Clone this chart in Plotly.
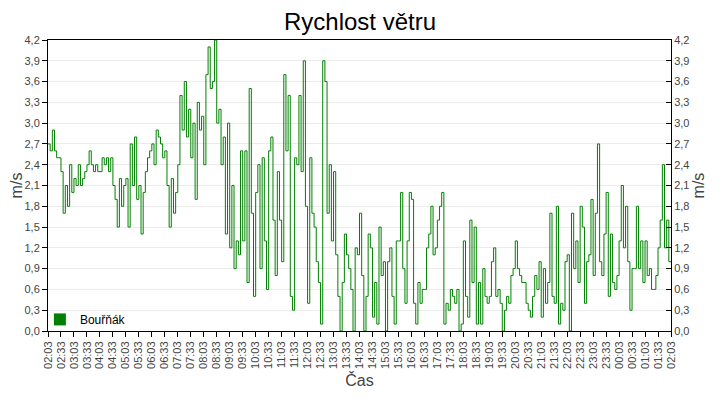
import pandas as pd
import plotly.graph_objects as go

# ================== DATA ==================
# wind speed [m/s], one reading every 5 minutes, 02:03 -> 02:03 next day
speed_0203_0558 = [2.7, 2.6, 2.9, 2.6, 2.5, 2.5, 2.3, 1.7, 2.1, 1.8,
                   2.4, 2.0, 2.2, 2.1, 2.4, 2.1, 2.2, 2.3, 2.4, 2.6,
                   2.4, 2.3, 2.4, 2.3, 2.3, 2.5, 2.4, 2.5, 2.3, 2.5,
                   2.1, 1.9, 1.5, 2.2, 1.8, 2.1, 2.2, 1.5, 2.7, 2.1,
                   2.8, 1.9, 2.1, 1.4, 2.0, 2.3, 2.5, 2.6]
speed_0603_0958 = [2.7, 2.4, 2.9, 2.8, 2.7, 2.5, 2.6, 2.1, 1.5, 2.2,
                   1.7, 2.0, 2.4, 3.4, 2.9, 3.6, 2.8, 3.2, 2.5, 3.0,
                   1.9, 3.3, 2.9, 3.1, 2.4, 3.7, 4.1, 3.5, 3.6, 4.2,
                   3.0, 3.2, 2.4, 2.8, 1.4, 3.0, 1.2, 2.1, 0.9, 1.3,
                   1.1, 2.6, 1.3, 2.6, 0.7, 3.5, 1.7, 0.5]
speed_1003_1358 = [2.0, 2.4, 0.9, 2.5, 1.3, 0.6, 2.6, 2.8, 1.6, 0.8,
                   2.3, 1.6, 1.0, 3.7, 2.6, 3.4, 0.5, 0.3, 2.5, 2.4,
                   3.4, 2.3, 3.9, 1.8, 0.4, 2.5, 1.7, 1.5, 1.0, 0.7,
                   0.1, 3.9, 3.6, 1.7, 2.4, 1.3, 2.3, 1.1, 0.5, 0.0,
                   0.7, 1.4, 1.1, 0.9, 0.6, 0.0, 1.2, 1.1]
speed_1403_1758 = [1.7, 0.8, 0.0, 0.5, 1.4, 1.2, 0.2, 0.7, 0.1, 1.5,
                   0.8, 1.0, 0.0, 1.0, 1.2, 0.5, 0.1, 1.3, 1.3, 2.0,
                   0.9, 0.4, 1.3, 2.0, 1.9, 0.4, 0.1, 0.7, 0.4, 0.6,
                   0.6, 1.2, 1.4, 1.8, 1.1, 1.2, 1.6, 1.8, 2.0, 0.1,
                   0.4, 0.3, 0.6, 0.5, 0.4, 0.6, 0.0, 0.1]
speed_1803_2158 = [1.3, 0.5, 0.2, 1.6, 0.7, 1.5, 0.1, 0.7, 0.1, 0.9,
                   0.5, 0.4, 0.5, 1.0, 1.2, 0.5, 0.6, 0.4, 0.0, 0.3,
                   0.5, 0.4, 0.8, 0.9, 1.3, 0.9, 0.8, 0.7, 0.7, 0.4,
                   0.3, 0.2, 0.5, 0.8, 0.6, 1.0, 0.2, 0.9, 0.4, 0.7,
                   1.7, 0.5, 0.4, 1.8, 0.1, 0.4, 0.3, 1.0]
speed_2203_0203 = [1.1, 0.0, 1.7, 0.9, 1.3, 0.7, 1.8, 1.5, 0.4, 1.0,
                   1.1, 1.9, 0.8, 1.7, 2.7, 1.0, 0.8, 1.4, 2.0, 0.5,
                   1.4, 0.7, 0.6, 0.8, 1.3, 2.1, 1.2, 1.8, 1.0, 0.3,
                   0.9, 0.9, 1.8, 0.9, 1.3, 0.7, 1.3, 0.8, 0.9, 0.6,
                   0.6, 0.8, 1.2, 1.6, 2.4, 1.2, 1.6, 1.0, 1.0]

speed = (speed_0203_0558 + speed_0603_0958 + speed_1003_1358
         + speed_1403_1758 + speed_1803_2158 + speed_2203_0203)
START = pd.Timestamp("2023-01-01 02:03")
times = pd.date_range(START, periods=len(speed), freq="5min")

STATION = "Bouřňák"
GREEN = "#008000"
FONT = "Liberation Sans, Arial, sans-serif"

fig = go.Figure()
fig.add_trace(go.Scatter(x=times, y=speed, mode="lines", name=STATION, line_shape="hv",
                         line=dict(color=GREEN, width=1), showlegend=False))
# legend entry drawn as a filled square
fig.add_trace(go.Scatter(x=[None], y=[None], mode="markers", name=STATION,
                         marker=dict(color=GREEN, symbol="square", size=12)))

yax = dict(range=[0, 4.2], dtick=0.3, tick0=0, tickformat=".1f", automargin=False,
           showline=True, linecolor="black", linewidth=1, zeroline=False,
           ticklen=5, tickcolor="black", tickfont=dict(size=11, color="#444"),
           title=dict(text="m/s", font=dict(size=16, color="#444"), standoff=4))

# margins account for the 8px page offset of the html body
fig.update_layout(
    width=720, height=400,
    margin=dict(l=40, r=57, t=32, b=77, autoexpand=False),
    paper_bgcolor="white", plot_bgcolor="white",
    separators=", ",
    font=dict(family=FONT, color="#444"),
    title=dict(text="Rychlost větru", x=(40 + 312) / 720, xanchor="center", y=0.965, yanchor="middle",
               font=dict(size=24, color="black")),
    xaxis=dict(range=[START, START + pd.Timedelta(hours=24)], automargin=False,
               tickformat="%H:%M", dtick=30 * 60 * 1000, tick0=START, tickangle=-90,
               ticks="outside", ticklen=5, tickcolor="black",
               tickfont=dict(size=11, color="#444"),
               showline=True, mirror=True, linecolor="black", linewidth=1,
               showgrid=False, zeroline=False,
               title=dict(text="Čas", font=dict(size=16, color="#444"), standoff=6)),
    yaxis=dict(yax, ticks="outside", showgrid=True, gridcolor="#ebebeb", gridwidth=1),
    yaxis2=dict(yax, ticks="inside", overlaying="y", side="right", showgrid=False),
    legend=dict(x=-0.013, y=-0.01, xanchor="left", yanchor="bottom", bgcolor="rgba(0,0,0,0)",
                font=dict(size=12, color="black")),
)
fig.data[1].update(yaxis="y2")

fig.write_html("out.html")
